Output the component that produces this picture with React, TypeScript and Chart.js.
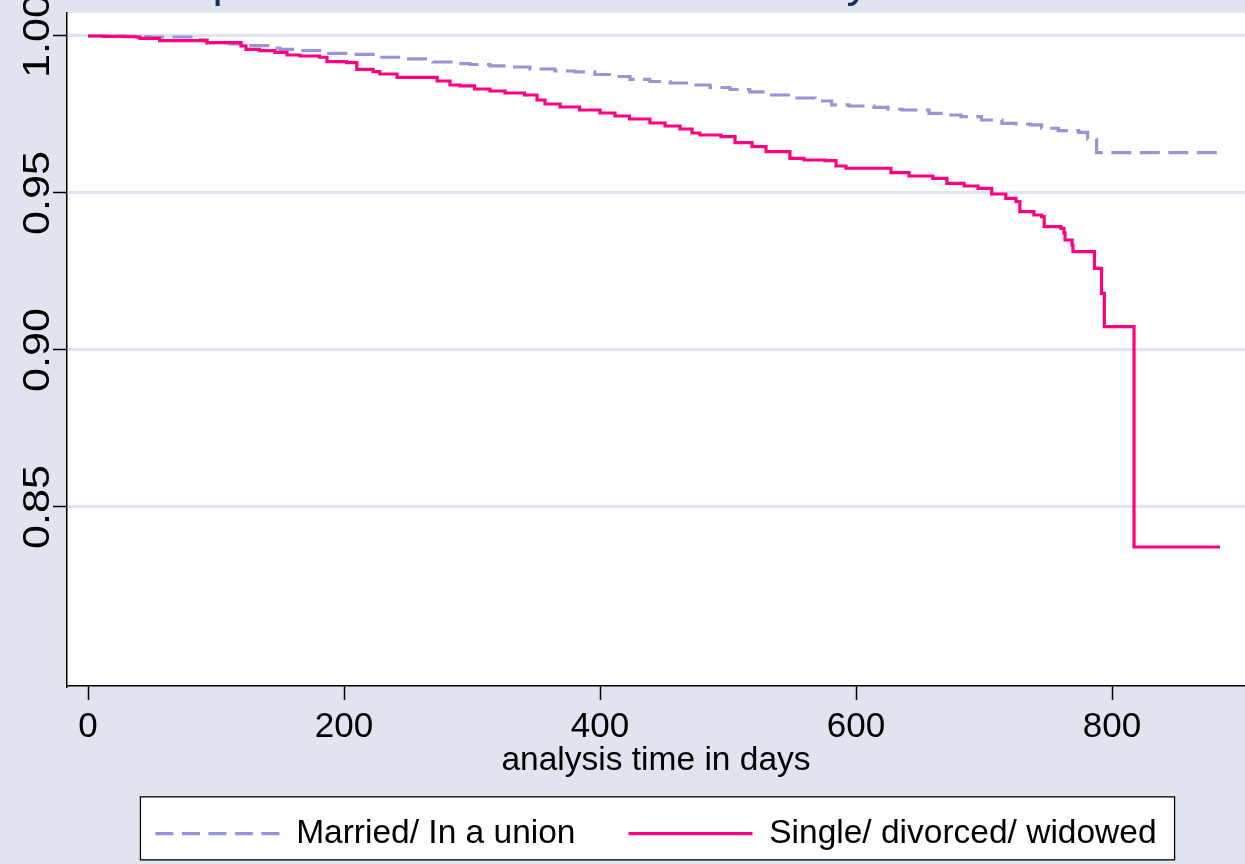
import React, { useEffect, useRef } from 'react';
import { Chart, registerables } from 'chart.js';

Chart.register(...registerables);
Chart.defaults.font.family = "'Liberation Sans', Arial, sans-serif";

const titleText = 'Kaplan-Meier survival estimates by marital status';
const xTitle = 'analysis time in days';
const seriesLabels = ['Married/ In a union', 'Single/ divorced/ widowed'];
const xTicks = [0, 200, 400, 600, 800];
const yTicks = [0.85, 0.9, 0.95, 1.0];
const yTickLabels = ['0.85', '0.90', '0.95', '1.00'];

const marriedDays = [
  0, 43, 48.4, 87.5, 93, 111, 124, 142, 150, 165.6, 186.7, 207, 228, 249, 269.5, 288,
  298.4, 314, 329.7, 345.3, 364.8, 380.5, 396, 411.7, 423.4, 439, 454.7, 470.3, 486,
  501.6, 517, 532.8, 551.6, 568, 581, 594.5, 614, 625, 636, 657, 668, 682, 698, 714,
  725, 736, 745, 758, 774, 781, 788, 885.2,
];
const marriedSurv = [
  1.0, 0.99978, 0.99968, 0.99873, 0.99777, 0.99745, 0.99691, 0.99618, 0.99576, 0.99532,
  0.99449, 0.99417, 0.99322, 0.99268, 0.99172, 0.99118, 0.99092, 0.99045, 0.99013,
  0.98949, 0.98885, 0.98854, 0.98774, 0.9871, 0.98615, 0.98551, 0.98503, 0.98439,
  0.9836, 0.98296, 0.98217, 0.98121, 0.98025, 0.9793, 0.97803, 0.97771, 0.97729,
  0.97666, 0.97643, 0.97538, 0.97484, 0.9743, 0.97325, 0.9722, 0.97197, 0.97166,
  0.97061, 0.96984, 0.96933, 0.9672, 0.96284, 0.96284,
];

const singleDays = [
  0, 12, 28, 39, 40.6, 56, 93, 119.5, 123.4, 134, 146, 155.5, 165.6, 181, 186.7, 202,
  210, 222.7, 228, 241.4, 272.7, 282.8, 290.6, 302, 314, 325.8, 341, 350.8, 357, 368.8,
  384, 400, 411.7, 423, 439, 450.8, 462.5, 471.9, 478, 494.5, 505.5, 518.8, 529.7,
  548.4, 559.4, 575.8, 584.4, 592.2, 627.3, 641.4, 660, 671, 684.4, 695.3, 706, 717,
  725, 728, 739, 745, 747, 760, 762.5, 763.3, 768.8, 769.5, 786.3, 791.8, 794, 817.2,
  884.4,
];
const singleSurv = [
  1.0, 0.9999, 0.99975, 0.99965, 0.99927, 0.9985, 0.99787, 0.99682, 0.99576, 0.99532,
  0.99475, 0.99395, 0.99363, 0.99322, 0.99182, 0.9915, 0.98939, 0.98863, 0.9879,
  0.98685, 0.98567, 0.98439, 0.98408, 0.98312, 0.98248, 0.98185, 0.98121, 0.97962,
  0.97834, 0.97739, 0.97643, 0.97548, 0.97452, 0.97357, 0.97229, 0.97134, 0.97038,
  0.96911, 0.96847, 0.96793, 0.96602, 0.96475, 0.96315, 0.96105, 0.96051, 0.96029,
  0.9586, 0.95787, 0.95646, 0.95541, 0.95468, 0.95309, 0.95223, 0.9515, 0.94968,
  0.94831, 0.94723, 0.94404, 0.94299, 0.94245, 0.93927, 0.93876, 0.93726, 0.93503,
  0.93344, 0.93131, 0.92602, 0.91806, 0.90742, 0.83726, 0.83726,
];

const BG = 'rgb(223,228,239)';
const GRID = 'rgb(223,228,239)';
const LAVENDER = 'rgb(152,148,214)';
const PINK = 'rgb(255,0,128)';
const NAVY = '#1a2b5c';
const LEGEND_DASHES = [[18, 8.5], []];

export default function App() {
  const ref = useRef<HTMLCanvasElement>(null);

  useEffect(() => {
    const canvas = ref.current;
    if (!canvas) return;

    const bgPlugin = {
      id: 'stataBg',
      beforeDraw(chart: any) {
        const { ctx, chartArea: a, width, height } = chart;
        ctx.save();
        ctx.fillStyle = BG;
        ctx.fillRect(0, 0, width, height);
        ctx.fillStyle = '#ffffff';
        ctx.fillRect(a.left, a.top, a.right - a.left, a.bottom - a.top);
        const lg = chart.legend;
        if (lg && lg.legendHitBoxes && lg.legendHitBoxes.length) {
          const hb = lg.legendHitBoxes;
          const first = hb[0];
          const last = hb[hb.length - 1];
          const l = first.left - 15;
          const r = last.left + last.width + 18;
          const t = first.top - 20;
          const b = first.top + 43;
          ctx.fillStyle = '#ffffff';
          ctx.fillRect(l, t, r - l, b - t);
          ctx.strokeStyle = '#000000';
          ctx.lineWidth = 1.3;
          ctx.strokeRect(l, t, r - l, b - t);
        }
        ctx.restore();
      },
    };

    const yLabelPlugin = {
      id: 'yRotLabels',
      afterDraw(chart: any) {
        const s = chart.scales.y;
        const ctx = chart.ctx;
        ctx.save();
        ctx.fillStyle = '#000000';
        ctx.font = "36px 'Liberation Sans', Arial, sans-serif";
        ctx.textAlign = 'center';
        ctx.textBaseline = 'alphabetic';
        const bx = s.right - 14 - 4;
        yTicks.forEach((v, i) => {
          const py = s.getPixelForValue(v);
          ctx.save();
          ctx.translate(bx, py);
          ctx.rotate(-Math.PI / 2);
          ctx.scale(1.2, 1);
          ctx.fillText(yTickLabels[i], 0, 0);
          ctx.restore();
        });
        ctx.restore();
      },
    };

    const chart = new Chart(canvas, {
      type: 'line',
      data: {
        datasets: [
          {
            label: seriesLabels[0],
            data: marriedDays.map((d, i) => ({ x: d, y: marriedSurv[i] })),
            borderColor: LAVENDER,
            backgroundColor: LAVENDER,
            borderWidth: 3.2,
            borderDash: [20, 8.5],
            stepped: 'before',
            pointRadius: 0,
            fill: false,
            order: 2,
          },
          {
            label: seriesLabels[1],
            data: singleDays.map((d, i) => ({ x: d, y: singleSurv[i] })),
            borderColor: PINK,
            backgroundColor: PINK,
            borderWidth: 3.2,
            stepped: 'before',
            pointRadius: 0,
            fill: false,
            order: 1,
          },
        ],
      },
      options: {
        animation: false,
        responsive: false,
        devicePixelRatio: 1,
        layout: { padding: { top: 0, left: 0, right: 0, bottom: 3.65 } },
        scales: {
          x: {
            type: 'linear',
            min: -16.41,
            max: 903.9,
            afterBuildTicks: (s: any) => {
              s.ticks = xTicks.map((v) => ({ value: v }));
            },
            grid: {
              drawOnChartArea: false,
              drawTicks: true,
              tickLength: 14,
              tickColor: '#000000',
              tickWidth: 1.5,
            },
            border: { display: true, color: '#000000', width: 1.5 },
            ticks: {
              color: '#000000',
              font: { size: 35, lineHeight: 1 },
              padding: 10,
              maxRotation: 0,
              minRotation: 0,
              autoSkip: false,
              callback: (v: any) => String(v),
            },
            title: {
              display: true,
              text: xTitle,
              color: '#000000',
              font: { size: 33.5, lineHeight: 1 },
              padding: { top: -11, bottom: -13.65 },
            },
          },
          y: {
            type: 'linear',
            min: 0.79299,
            max: 1.00732,
            afterBuildTicks: (s: any) => {
              s.ticks = yTicks.map((v) => ({ value: v }));
            },
            afterFit: (s: any) => {
              s.width = 67;
            },
            grid: {
              color: GRID,
              lineWidth: 3,
              drawTicks: true,
              tickLength: 14,
              tickColor: '#000000',
              tickWidth: 1.5,
            },
            border: { display: true, color: '#000000', width: 1.5 },
            ticks: { display: false },
          },
        },
        plugins: {
          title: {
            display: true,
            text: titleText,
            color: NAVY,
            fullSize: false,
            font: { size: 46, lineHeight: 1.2, weight: 'normal' },
            padding: { top: 15.4, bottom: 2.4 },
          },
          legend: {
            display: true,
            position: 'bottom',
            fullSize: false,
            labels: {
              usePointStyle: true,
              pointStyle: 'line',
              pointStyleWidth: 124,
              padding: 53,
              color: '#000000',
              font: { size: 33.5 },
              sort: (a: any, b: any) => a.datasetIndex - b.datasetIndex,
              generateLabels: (c: any) => {
                const items = (Chart.defaults.plugins.legend.labels as any).generateLabels(c);
                items.forEach((it: any) => {
                  const ds = c.data.datasets[it.datasetIndex];
                  it.lineDash = LEGEND_DASHES[it.datasetIndex] || [];
                  it.lineWidth = ds.borderWidth;
                  it.strokeStyle = ds.borderColor;
                  it.lineCap = 'butt';
                });
                return items;
              },
            },
          },
          tooltip: { enabled: false },
        },
      } as any,
      plugins: [bgPlugin, yLabelPlugin],
    } as any);

    return () => {
      chart.destroy();
    };
  }, []);

  return (
    <canvas
      ref={ref}
      width={1245}
      height={924}
      style={{ position: 'fixed', left: 0, top: -60, display: 'block' }}
    />
  );
}
